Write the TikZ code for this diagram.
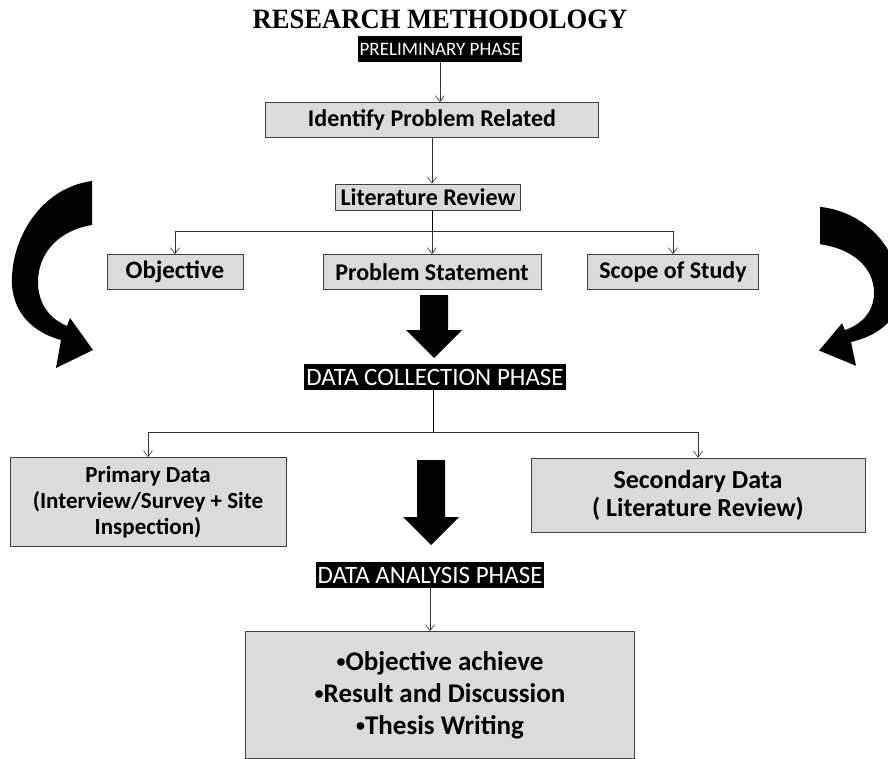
\documentclass[tikz,border=0pt]{standalone}
\usepackage{fontspec}
\setmainfont{Carlito}
\newfontfamily\headfont{Liberation Serif}
\usetikzlibrary{arrows.meta}
\newcommand{\smallbullet}{\raisebox{3pt}{\fontsize{18}{18}\selectfont•}}

\begin{document}
\begin{tikzpicture}[x=1pt, y=-1pt,
    heading/.style={xscale=0.95, font=\headfont\bfseries\fontsize{28}{30}\selectfont},
    phase/.style={fill=black, text=white, inner sep=2pt, minimum height=26pt,
                  font=\fontsize{25}{27}\selectfont},
    greybox/.style={fill=black!14, draw=black!75, line width=0.7pt, inner sep=2pt,
                    align=center, font=\bfseries\fontsize{24}{26}\selectfont},
    link/.style={draw=black!80, line width=0.6pt, -{Straight Barb[length=6pt, width=9pt]}}]

%big black arrow pointing down: centre x, top y, tip y
\newcommand{\bigdownarrow}[3]{
        \fill (#1-14,#2) -- (#1+14,#2) -- (#1+14,#3-28) -- (#1+28,#3-28)
              -- (#1,#3) -- (#1-28,#3-28) -- (#1-14,#3-28) -- cycle;
}
%curved arrow on the left side, mirrored for the right side
\newcommand{\bendarrow}{
        \fill (92,181) .. controls (40,188) and (10,240) .. (12,285)
              .. controls (14,315) and (35,333) .. (61,340)
              -- (56,368) -- (93,350) -- (70,318) -- (67,326)
              .. controls (48,318) and (38,302) .. (38,282)
              .. controls (38,252) and (60,230) .. (92,225) -- cycle;
}

\useasboundingbox (0,0) rectangle (888,759);
\clip (0,0) rectangle (888,759);

\node[heading] (title) at (440,19) {RESEARCH METHODOLOGY};

%%preliminary phase
\node[phase, font=\fontsize{19}{21}\selectfont] (prelim) at (440,49) {PRELIMINARY PHASE};
\node[greybox, minimum width=333pt, minimum height=35pt] (identify) at (432,120) {Identify Problem Related};
\node[greybox, minimum width=185pt, minimum height=26pt] (litreview) at (428,197) {Literature Review};
\node[greybox, minimum width=136pt, minimum height=35pt, font=\bfseries\fontsize{25}{27}\selectfont]
      (objective) at (175,272) {Objective};
\node[greybox, minimum width=218pt, minimum height=35pt] (statement) at (432,272) {Problem Statement};
\node[greybox, minimum width=171pt, minimum height=35pt] (scope) at (673,272) {Scope of Study};

\draw[link] (prelim.south) -- (prelim.south |- identify.north);
\draw[link] (identify.south) -- (identify.south |- litreview.north);
\coordinate (litfork) at (432,231);
\draw (litreview.south -| litfork) -- (litfork);
\draw[link] (litfork) -| (objective.north);
\draw[link] (litfork) -- (statement.north);
\draw[link] (litfork) -| (scope.north);

%%curved arrows
\bendarrow
\begin{scope}[xshift=912pt, yshift=-53pt, xscale=-1, yscale=0.85]
\bendarrow
\end{scope}

%%data collection phase
\bigdownarrow{434}{295}{358}
\node[phase] (collect) at (435,377) {DATA COLLECTION PHASE};
\node[greybox, minimum width=276pt, minimum height=89pt, font=\bfseries\fontsize{23}{26}\selectfont]
      (primary) at (148,502) {Primary Data\\(Interview/Survey + Site\\Inspection)};
\node[greybox, minimum width=334pt, minimum height=74pt, font=\bfseries\fontsize{26}{28}\selectfont]
      (secondary) at (698,495) {Secondary Data\\( Literature Review)};

\coordinate (datafork) at (433,432);
\draw (collect.south -| datafork) -- (datafork);
\draw[link] (datafork) -| (primary.north);
\draw[link] (datafork) -| (secondary.north);

%%data analysis phase
\bigdownarrow{431}{460}{545}
\node[phase] (analysis) at (430,575) {DATA ANALYSIS PHASE};
\node[greybox, minimum width=389pt, minimum height=127pt, font=\bfseries\fontsize{27}{32}\selectfont]
      (outcome) at (440,695) {\smallbullet Objective achieve\\\smallbullet Result and Discussion\\\smallbullet Thesis Writing};
\draw[link] (analysis.south) -- (analysis.south |- outcome.north);

\end{tikzpicture}
\end{document}
